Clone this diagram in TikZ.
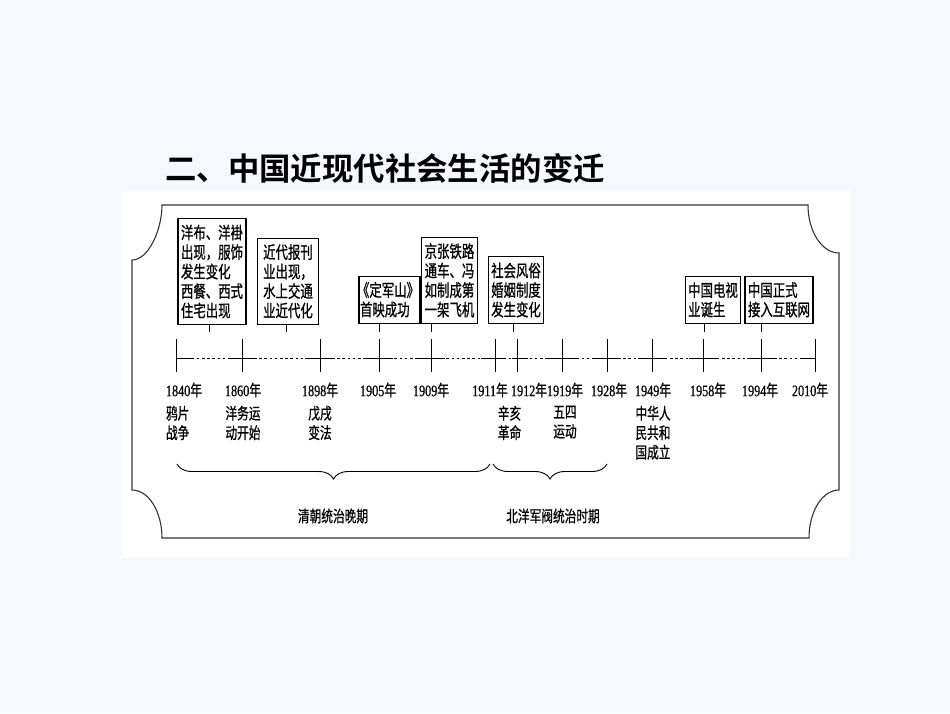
\documentclass[tikz,border=0pt]{standalone}
\usepackage{fontspec}
\setmainfont{Liberation Serif}[FakeStretch=0.76, FakeBold=0.6]
\newfontfamily\cjk{Noto Sans CJK SC}[FakeStretch=0.73, FakeBold=0.8]
\newfontfamily\cjkbold{Noto Sans CJK SC Bold}
\usetikzlibrary{
  positioning,
  calc,
  decorations.pathreplacing
}
\definecolor{slidebg}{HTML}{F5F9FD}
\definecolor{framegray}{HTML}{333333}
\newcommand{\yr}[1]{#1{\cjk 年}}

\begin{document}
\begin{tikzpicture}[
  x=1pt, y=-1pt,
  box/.style={draw, line width=1.1pt, fill=white, inner xsep=3pt, inner ysep=6pt,
    align=left, anchor=south, font=\cjk\fontsize{17}{19.5}\selectfont},
  year/.style={inner sep=0pt, font=\fontsize{16}{18}\selectfont},
  event/.style={inner sep=0pt, align=center, font=\cjk\fontsize{16}{19.5}\selectfont},
  tickmark/.style={line width=1pt},
  link/.style={line width=1pt},
  dots/.style={line width=0.9pt, dash pattern=on 2.6pt off 2.6pt},
  era/.style={decorate, decoration={brace, mirror, amplitude=15pt}, line width=0.9pt}
]

  % Page and panel
  \fill[slidebg] (0,0) rectangle (950,713);
  \useasboundingbox (0,0) rectangle (950,713);
  \fill[white] (122,191) rectangle (850,558);

  % Title
  \node[anchor=west, inner sep=0pt, font=\cjkbold\fontsize{31.4}{34}\selectfont]
    (title) at (165,168) {二、中国近现代社会生活的变迁};

  % Frame with hollow corners
  \draw[framegray, line width=1.1pt]
    (162,205) -- (808,205)
    .. controls (808,231.5) and (821.9,253) .. (839,253)
    -- (839,490)
    .. controls (822.4,490) and (809,511.5) .. (809,538)
    -- (162,538)
    .. controls (162,511.5) and (148.6,490) .. (132,490)
    -- (132,260)
    .. controls (148.6,260) and (162,229.6) .. (162,205)
    -- cycle;

  % Time axis
  \draw[dots] (176,358) -- (815,358);
  \foreach \x/\l/\r in {176/0/16, 242/14/15, 320/15/14, 379/15/14, 431/15/14,
      495/14/10, 517/5/11, 562/14/14, 607/14/14, 652/14/14, 703/14/14,
      761/14/14, 815/13/0} {
    \draw[tickmark] (\x,339) -- (\x,372);
    \draw[tickmark] (\x-\l,358) -- (\x+\r,358);
  }

  % Years
  \foreach \x/\yy in {184/1840, 243/1860, 320/1898, 378/1905, 431/1909,
      490/1911, 529/1912, 565/1919, 609/1928, 653/1949, 708/1958,
      760/1994, 810/2010}
    \node[year] (y\yy) at (\x,390) {\yr{\yy}};

  % Events below the axis
  \node[event, anchor=north west] (e1840) at ($(y1840.south west)+(0,8)$) {鸦片\\战争};
  \node[event, below=8pt of y1860] (e1860) {洋务运\\动开始};
  \node[event, below=8pt of y1898] (e1898) {戊戌\\变法};
  \node[event, anchor=north] (e1911) at ($(y1911.south)!0.5!(y1912.south)+(0,8)$) {辛亥\\革命};
  \node[event, below=8pt of y1919] (e1919) {五四\\运动};
  \node[event, below=8pt of y1949] (e1949) {中华人\\民共和\\国成立};

  % Periods
  \draw[era] (177,464) -- (490,464);
  \draw[era] (493,464) -- (607,464);
  \node[event] (qing) at (333,516) {清朝统治晚期};
  \node[event] (beiyang) at (553,516) {北洋军阀统治时期};

  % Boxes above the axis
  \node[box] (bCloth) at (212,325) {洋布、洋褂\\出现，服饰\\发生变化\\西餐、西式\\住宅出现};
  \node[box, minimum width=61pt] (bPress) at (288,325) {近代报刊\\业出现，\\水上交通\\业近代化};
  \node[box, inner xsep=1pt] (bFilm) at (389.5,324) {\hspace{-3pt}《定军山》\hspace{-3pt}\\首映成功};
  \node[box] (bRail) at (449.5,324) {京张铁路\\通车、冯\\如制成第\\一架飞机};
  \node[box] (bCustom) at (516,324) {社会风俗\\婚姻制度\\发生变化};
  \node[box] (bTV) at (713,324) {中国电视\\业诞生};
  \node[box] (bNet) at (779,324) {中国正式\\接入互联网};

  % Links down to the axis
  \foreach \b/\x in {bCloth/209, bPress/286, bFilm/379, bRail/431,
      bCustom/513, bTV/704, bNet/761} {
    \coordinate (c\b) at (\x,332);
    \draw[link] (\b.south -| c\b) -- (c\b);
  }

\end{tikzpicture}
\end{document}
